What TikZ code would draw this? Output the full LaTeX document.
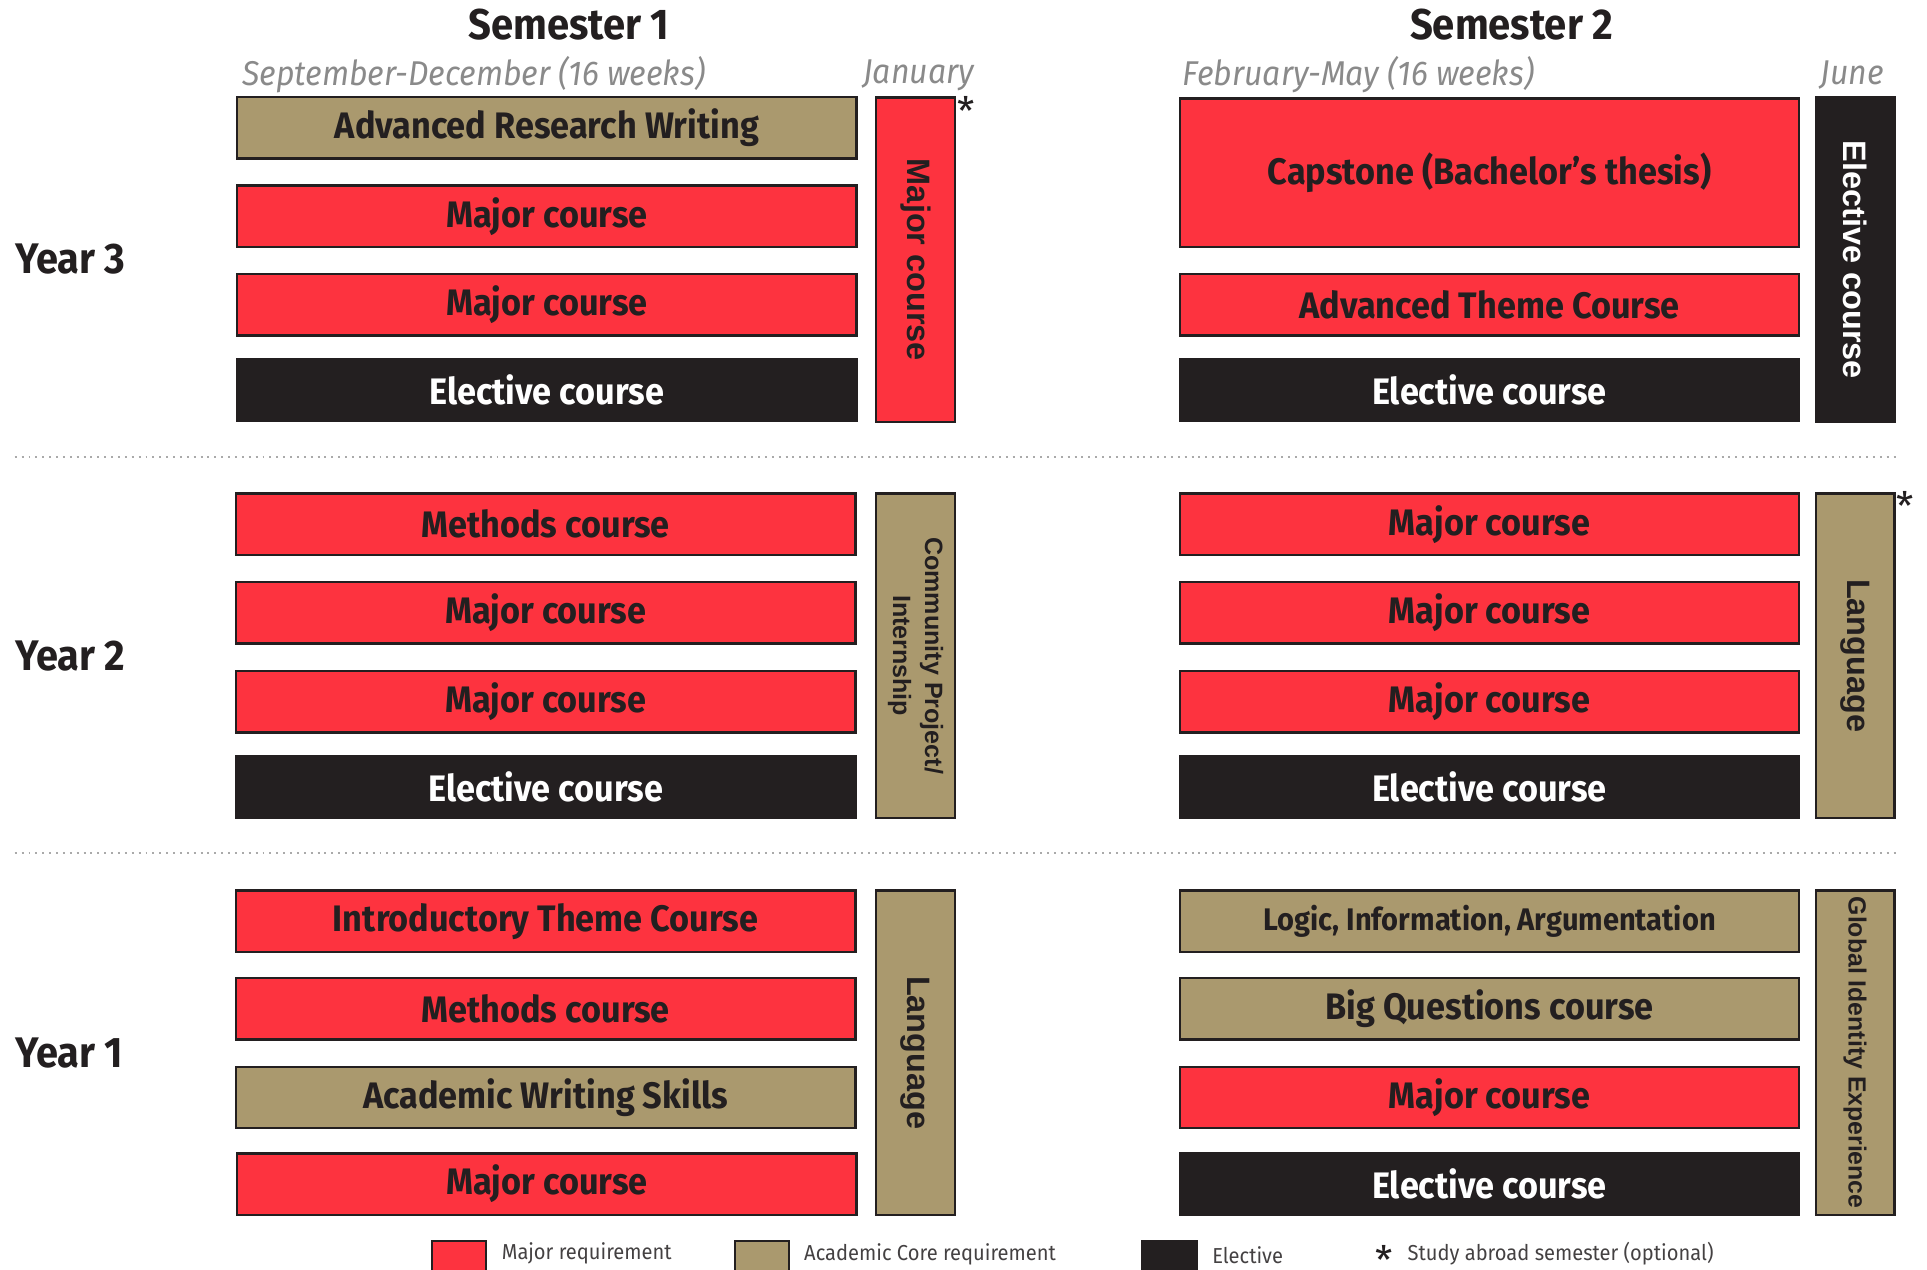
\documentclass[tikz,border=0pt]{standalone}
\usepackage{fontspec}
\setmainfont{Fira Sans}
\newfontfamily\dinfont[FakeStretch=0.93]{Fira Sans}
\newfontfamily\vertfont{Liberation Sans}
\definecolor{majorred}{HTML}{FD333F}
\definecolor{coretan}{HTML}{AA996E}
\definecolor{ink}{HTML}{231F20}
\definecolor{period}{HTML}{8A8A8A}
\definecolor{rulegray}{HTML}{AAAAAA}
\tikzset{
  course/.style={draw=ink, line width=1pt, minimum width=252pt, minimum height=25pt,
    inner sep=0pt, text=ink, font=\dinfont\bfseries\fontsize{15}{15}\selectfont},
  major/.style={course, fill=majorred},
  core/.style={course, fill=coretan},
  elective/.style={course, fill=ink, text=white},
  side/.style={draw=ink, line width=1pt, minimum width=132pt, minimum height=32pt,
    inner sep=0pt, rotate=-90, text=ink, align=center,
    font=\vertfont\bfseries\fontsize{13.2}{13.2}\selectfont},
  semhead/.style={text=ink, font=\dinfont\bfseries\fontsize{17.5}{17.5}\selectfont},
  yearlab/.style={text=ink, inner sep=0pt, font=\dinfont\bfseries\fontsize{17.4}{17.4}\selectfont},
  period/.style={text=period, inner sep=0pt, font=\dinfont\itshape\fontsize{14}{14}\selectfont},
  swatch/.style={draw=ink, line width=1pt, minimum width=22pt, minimum height=20pt, inner sep=0pt},
  legend/.style={text=ink!85, inner sep=0pt, font=\dinfont\fontsize{8.8}{8.8}\selectfont},
  star/.style={text=ink, inner sep=0pt, font=\fontsize{16}{16}\selectfont},
  rule/.style={rulegray, line width=0.8pt, dotted}
}
\begin{document}
\begin{tikzpicture}[x=0.5pt,y=-0.5pt]
  \useasboundingbox (0,0) rectangle (1568,1033);
  \clip (0,0) rectangle (1568,1033);
  % headings
  \node[semhead] (sem1) at (463,20) {Semester 1};
  \node[semhead] (sem2) at (1230,20) {Semester 2};
  \node[period, anchor=west] (sepdec) at (197,61) {September-December (16 weeks)};
  \node[period, anchor=west] (jan) at (702,61) {January};
  \node[period, anchor=west] (febmay) at (962,61) {February-May (16 weeks)};
  \node[period, anchor=west] (june) at (1481,61) {June};
  % year labels
  \node[yearlab, anchor=west] (y3) at (12,211) {Year 3};
  \node[yearlab, anchor=west] (y2) at (12,534) {Year 2};
  \node[yearlab, anchor=west] (y1) at (12,857) {Year 1};
  % year 3
  \node[core] (arw) at (445,104) {Advanced Research Writing};
  \node[major] (maj3a) at (445,176) {Major course};
  \node[major] (maj3b) at (445,248) {Major course};
  \node[elective] (ele3a) at (445,317.5) {Elective course};
  \node[side, fill=majorred] (jan3) at (745,211.5) {Major course};
  \node[star] (star3) at (786,90) {*};
  \node[major, minimum height=60.5pt] (cap) at (1212,140.5) {Capstone (Bachelor’s thesis)};
  \node[major] (adv) at (1212,248) {Advanced Theme Course};
  \node[elective] (ele3b) at (1212,317.5) {Elective course};
  \node[side, fill=ink, text=white] (jun3) at (1509.5,211.5) {Elective course};
  % year 2
  \node[major] (meth2) at (444,426.5) {Methods course};
  \node[major] (maj2a) at (444,498.5) {Major course};
  \node[major] (maj2b) at (444,571) {Major course};
  \node[elective] (ele2a) at (444,640.5) {Elective course};
  \node[side, fill=coretan, font=\vertfont\bfseries\fontsize{10.2}{13}\selectfont] (jan2) at (745,533.5)
    {Community Project/\\Internship};
  \node[major] (maj2c) at (1212,426.5) {Major course};
  \node[major] (maj2d) at (1212,498.5) {Major course};
  \node[major] (maj2e) at (1212,571) {Major course};
  \node[elective] (ele2b) at (1212,640.5) {Elective course};
  \node[side, fill=coretan] (jun2) at (1509.5,533.5) {Language};
  \node[star] (star2) at (1550,412) {*};
  % year 1
  \node[major] (intro) at (444,749.5) {Introductory Theme Course};
  \node[major] (meth1) at (444,821) {Methods course};
  \node[core] (aws) at (444,893) {Academic Writing Skills};
  \node[major] (maj1a) at (445,963.5) {Major course};
  \node[side, fill=coretan] (jan1) at (745,856.5) {Language};
  \node[core, font=\dinfont\bfseries\fontsize{12.7}{12.7}\selectfont] (lia) at (1212,749.5)
    {Logic, Information, Argumentation};
  \node[core] (bigq) at (1212,821) {Big Questions course};
  \node[major] (maj1b) at (1212,893) {Major course};
  \node[elective] (ele1b) at (1212,963.5) {Elective course};
  \node[side, fill=coretan, font=\vertfont\bfseries\fontsize{10.1}{10.1}\selectfont] (jun1) at (1509.5,856.5)
    {Global Identity Experience};
  % separators
  \foreach \y in {372,694}
    \draw[rule] (12,\y) -- (1543,\y);
  % legend
  \node[swatch, fill=majorred] (swmaj) at (373.5,1030) {};
  \node[legend, anchor=west] (lgmaj) at (408,1020) {Major requirement};
  \node[swatch, fill=coretan] (swcore) at (620,1030) {};
  \node[legend, anchor=west] (lgcore) at (654,1021) {Academic Core requirement};
  \node[swatch, fill=ink] (swele) at (951.5,1030) {};
  \node[legend, anchor=west] (lgele) at (986,1021) {Elective};
  \node[star] (lgstar) at (1126,1025) {*};
  \node[legend, anchor=west] (lgabroad) at (1145,1020) {Study abroad semester (optional)};
\end{tikzpicture}
\end{document}
